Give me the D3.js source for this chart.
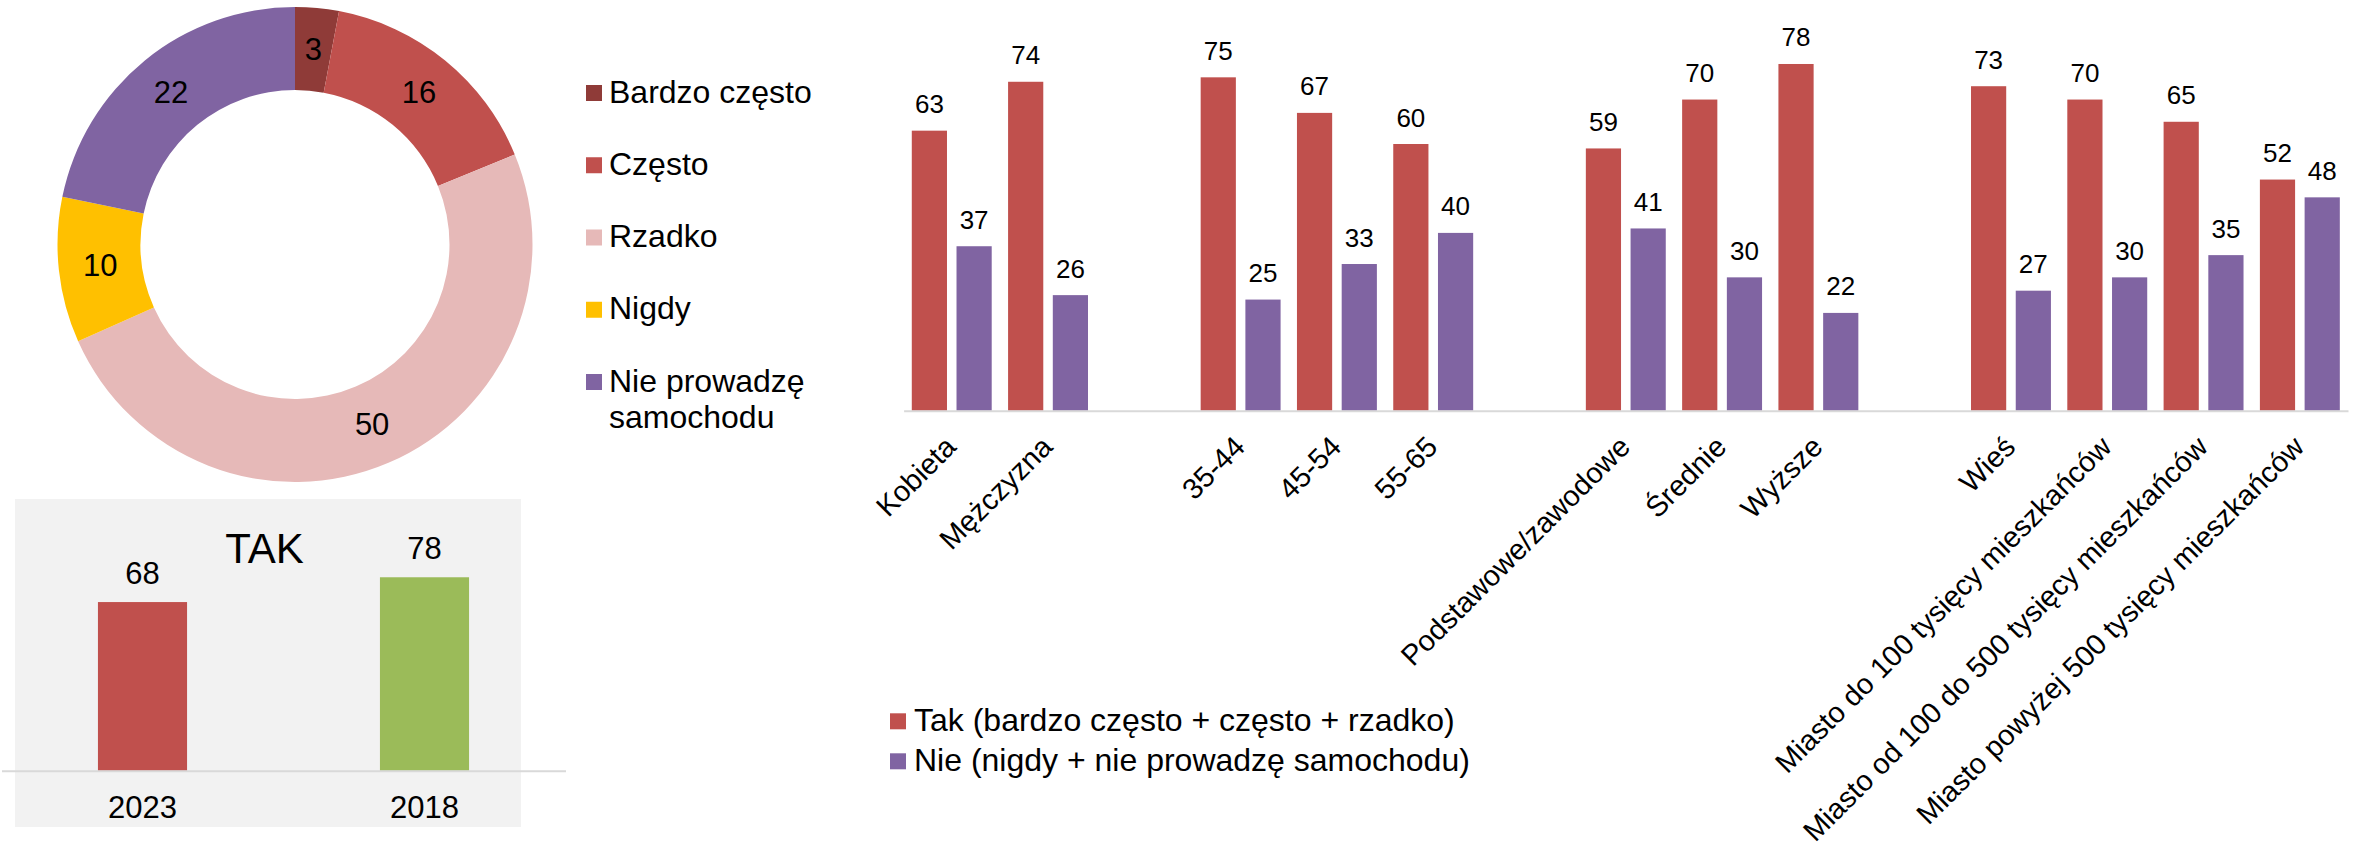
<!DOCTYPE html>
<html>
<head>
<meta charset="utf-8">
<script src="https://cdn.jsdelivr.net/npm/d3@7"></script>
<style>
  html, body { margin: 0; padding: 0; background: #ffffff; }
  svg { display: block; font-family: "Liberation Sans", Arial, sans-serif; }
</style>
</head>
<body>
<svg id="chart" width="2354" height="847"></svg>
<script>
// ---- Donut data ----
const donutLabels = ["Bardzo często", "Często", "Rzadko", "Nigdy", "Nie prowadzę samochodu"];
const donutValues = [3, 16, 50, 10, 22];
const donutColors = ["#8F3B38", "#C0504D", "#E6B9B8", "#FFC000", "#8064A2"];

// ---- Small "TAK" chart data ----
const yearLabels = ["2023", "2018"];
const yearValues = [68, 78];
const yearColors = ["#C0504D", "#9BBB59"];

// ---- Main grouped bar data ("" = empty gap slot) ----
const categories = ["Kobieta", "Mężczyzna", "", "35-44", "45-54", "55-65", "",
  "Podstawowe/zawodowe", "Średnie", "Wyższe", "",
  "Wieś", "Miasto do 100 tysięcy mieszkańców", "Miasto od 100 do 500 tysięcy mieszkańców",
  "Miasto powyżej 500 tysięcy mieszkańców"];
const takValues = [63, 74, null, 75, 67, 60, null, 59, 70, 78, null, 73, 70, 65, 52];
const nieValues = [37, 26, null, 25, 33, 40, null, 41, 30, 22, null, 27, 30, 35, 48];
const seriesNames = ["Tak (bardzo często + często + rzadko)", "Nie (nigdy + nie prowadzę samochodu)"];
const seriesColors = ["#C0504D", "#8064A2"];

const svg = d3.select("#chart");

// ================= Donut =================
const dg = svg.append("g").attr("transform", "translate(295,244.5)");
const pie = d3.pie().sort(null).value(d => d);
const arc = d3.arc().innerRadius(154.5).outerRadius(237.5);
const arcs = pie(donutValues);
dg.selectAll("path").data(arcs).join("path")
  .attr("d", arc)
  .attr("fill", (d, i) => donutColors[i]);
dg.selectAll("text").data(arcs).join("text")
  .attr("transform", d => `translate(${arc.centroid(d)})`)
  .attr("text-anchor", "middle")
  .attr("dominant-baseline", "central")
  .attr("font-size", 31)
  .attr("fill", "#000")
  .text(d => d.data);

// Donut legend
const lg = svg.append("g");
const legY = d3.scalePoint().domain(donutLabels).range([93, 382]);
donutLabels.forEach((name, i) => {
  const cy = legY(name);
  lg.append("rect").attr("x", 586).attr("y", cy - 8).attr("width", 16).attr("height", 16)
    .attr("fill", donutColors[i]);
  const t = lg.append("text").attr("x", 609).attr("y", cy + 9.5)
    .attr("font-size", 32).attr("fill", "#000");
  if (name === "Nie prowadzę samochodu") {
    t.append("tspan").attr("x", 609).text("Nie prowadzę");
    t.append("tspan").attr("x", 609).attr("dy", 36.5).text("samochodu");
  } else {
    t.text(name);
  }
});

// ================= Small TAK chart =================
svg.append("rect").attr("x", 15).attr("y", 499).attr("width", 506).attr("height", 328)
  .attr("fill", "#F2F2F2");
const sx = d3.scaleBand().domain(yearLabels).range([1.5, 565.5])
  .paddingInner(0.684).paddingOuter(0.342);
const sy = d3.scaleLinear().domain([0, 100]).range([770.7, 522.7]);
const sg = svg.append("g");
sg.selectAll("rect.bar").data(yearValues).join("rect").attr("class", "bar")
  .attr("x", (d, i) => sx(yearLabels[i]))
  .attr("width", sx.bandwidth())
  .attr("y", d => sy(d))
  .attr("height", d => sy(0) - sy(d))
  .attr("fill", (d, i) => yearColors[i]);
sg.selectAll("text.val").data(yearValues).join("text").attr("class", "val")
  .attr("x", (d, i) => sx(yearLabels[i]) + sx.bandwidth() / 2)
  .attr("y", d => sy(d) - 18)
  .attr("text-anchor", "middle").attr("font-size", 31).attr("fill", "#000")
  .text(d => d);
const sAxis = sg.append("g").attr("transform", `translate(0,${sy(0)})`)
  .call(d3.axisBottom(sx).tickSize(0).tickSizeOuter(0));
sAxis.select(".domain").attr("stroke", "#D9D9D9").attr("stroke-width", 2);
sAxis.selectAll(".tick text").attr("y", 47).attr("dy", 0)
  .attr("font-size", 31).attr("fill", "#000")
  .attr("font-family", "Liberation Sans, Arial, sans-serif");
sg.append("text").attr("x", 264.5).attr("y", 563).attr("text-anchor", "middle")
  .attr("font-size", 42).attr("fill", "#000").text("TAK");

// ================= Main grouped bars =================
const idx = d3.range(categories.length);
const x0 = d3.scaleBand().domain(idx).range([903.6, 2348])
  .paddingInner(0.17).paddingOuter(0.085);
const x1 = d3.scaleBand().domain([0, 1]).range([0, x0.bandwidth()])
  .paddingInner(0.213).paddingOuter(0);
const y = d3.scaleLinear().domain([0, 100]).range([410.7, 410.7 - 444.5]);
const series = [takValues, nieValues];
const mg = svg.append("g");
series.forEach((vals, s) => {
  const data = idx.filter(i => vals[i] != null);
  mg.selectAll(`rect.s${s}`).data(data).join("rect").attr("class", `s${s}`)
    .attr("x", i => x0(i) + x1(s))
    .attr("width", x1.bandwidth())
    .attr("y", i => y(vals[i]))
    .attr("height", i => y(0) - y(vals[i]))
    .attr("fill", seriesColors[s]);
  mg.selectAll(`text.v${s}`).data(data).join("text").attr("class", `v${s}`)
    .attr("x", i => x0(i) + x1(s) + x1.bandwidth() / 2)
    .attr("y", i => y(vals[i]) - 17.5)
    .attr("text-anchor", "middle").attr("font-size", 26).attr("fill", "#000")
    .text(i => vals[i]);
});
const mAxis = mg.append("g").attr("transform", `translate(0,${y(0)})`)
  .call(d3.axisBottom(x0).tickSize(0).tickSizeOuter(0).tickFormat(i => categories[i]));
mAxis.select(".domain").attr("stroke", "#D9D9D9").attr("stroke-width", 2);
mAxis.selectAll(".tick text")
  .attr("x", 0).attr("y", 0).attr("dy", 0)
  .attr("transform", "translate(6,38) rotate(-45)")
  .attr("text-anchor", "end")
  .attr("font-size", 29).attr("fill", "#000")
  .attr("font-family", "Liberation Sans, Arial, sans-serif");

// Main legend
const ml = svg.append("g");
const mlY = d3.scalePoint().domain(seriesNames).range([721.3, 761.3]);
seriesNames.forEach((name, i) => {
  const cy = mlY(name);
  ml.append("rect").attr("x", 890).attr("y", cy - 8).attr("width", 16).attr("height", 16)
    .attr("fill", seriesColors[i]);
  ml.append("text").attr("x", 914).attr("y", cy + 10).attr("font-size", 32)
    .attr("fill", "#000").text(name);
});
</script>
</body>
</html>
